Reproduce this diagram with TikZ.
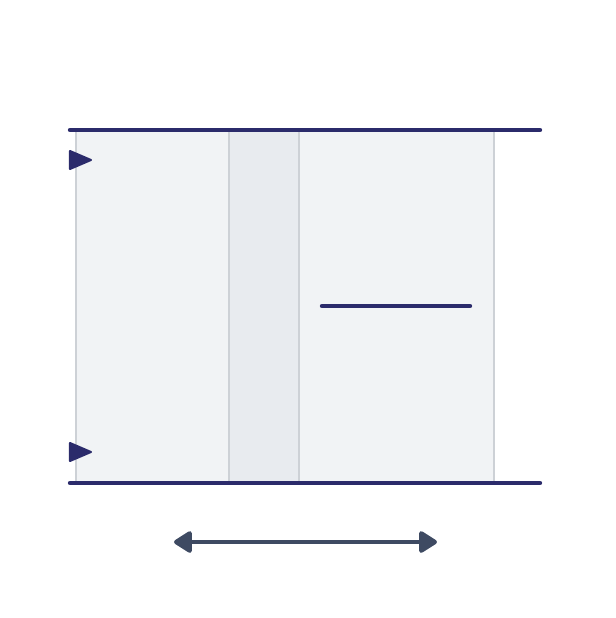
\documentclass[tikz,border=0pt]{standalone}
\usetikzlibrary{arrows.meta}

\definecolor{rail}{HTML}{2B2B6B}
\definecolor{panelfill}{HTML}{F1F3F5}
\definecolor{stripfill}{HTML}{E8EBEF}
\definecolor{panelline}{HTML}{CDD1D6}
\definecolor{slide}{HTML}{3E4A62}

\begin{document}
\begin{tikzpicture}[x=0.5pt,y=-0.5pt,line cap=round]
\useasboundingbox (0,0) rectangle (616,618);

%panels
\fill[panelfill] (76,132) rectangle (229,481);
\fill[stripfill] (229,132) rectangle (299,481);
\fill[panelfill] (299,132) rectangle (494,481);

%panel edges
\foreach \x in {76,229,299,494}{
	\draw[panelline, line width=1pt] (\x,132) -- (\x,481);
}

%top and bottom rails
\draw[rail, line width=2.2pt] (70,130) -- (540,130);
\draw[rail, line width=2.2pt] (70,483) -- (540,483);

%hinge marks
\foreach \y in {160,452}{
	\filldraw[rail, line join=round, line width=1pt] (70,\y-9) -- (91,\y) -- (70,\y+9) -- cycle;
}

%handle
\draw[rail, line width=2.2pt] (322,306) -- (470,306);

%sliding arrow
\coordinate (slideL) at (174,542);
\coordinate (slideR) at (437,542);
\draw[slide, line width=2.2pt, line cap=butt, {Triangle[length=10pt,width=12pt,round]}-{Triangle[length=10pt,width=12pt,round]}] (slideL) -- (slideR);
\end{tikzpicture}
\end{document}
